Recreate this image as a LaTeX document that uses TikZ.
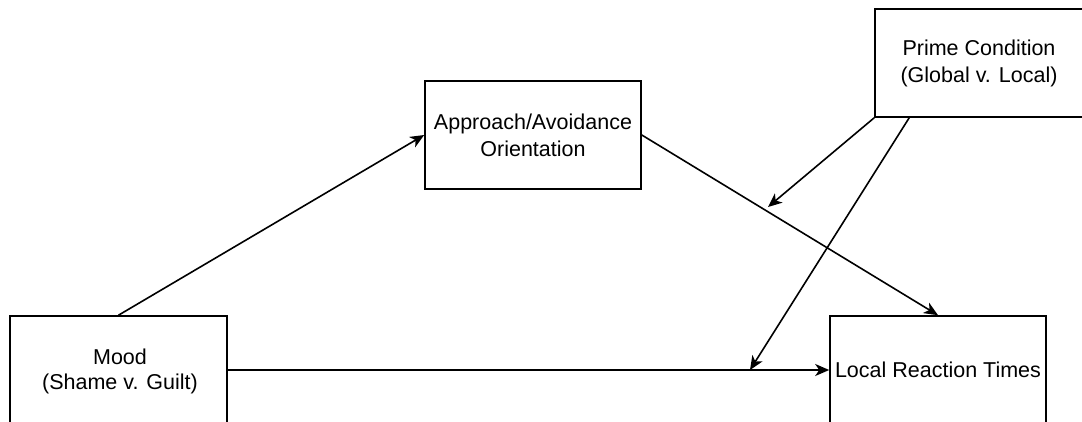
\documentclass[tikz,border=0pt]{standalone}
\usepackage{fontspec}
\setmainfont{Liberation Sans}
\usetikzlibrary{arrows.meta}
\begin{document}
\begin{tikzpicture}[x=1pt,y=-1pt,
  box/.style={draw=black,line width=1.6pt,fill=white,inner sep=0pt,align=center,
    font=\fontsize{21.5}{27}\selectfont},
  conn/.style={line width=1.6pt,-{Stealth[length=14pt,width=12pt,inset=4pt]}}]
\useasboundingbox (0,0) rectangle (1082,421);
\node[box,minimum width=217pt,minimum height=140pt] (mood) at (118.5,386) {};
\node[font=\fontsize{21.5}{25}\selectfont,align=center] (moodt) at (120,371) {Mood\\(Shame v. Guilt)};
\node[box,minimum width=216pt,minimum height=140pt] (lrt) at (938,386) {};
\node[font=\fontsize{21.5}{25}\selectfont] (lrtt) at (938,370) {Local Reaction Times};
\node[box,minimum width=216pt,minimum height=108pt] (app) at (533,135) {Approach/Avoidance\\Orientation};
\node[box,minimum width=208pt,minimum height=108pt] (prime) at (979,63) {Prime Condition\\(Global v. Local)};
\coordinate (m1) at (768,207);
\coordinate (m2) at (750,370);
\draw[conn] (mood.north) -- (app.west);
\draw[conn] (app.east) -- (lrt.north);
\draw[conn] (mood.east |- lrtt.center) -- (lrt.west |- lrtt.center);
\draw[conn] (prime.south west) -- (m1);
\draw[conn] ([xshift=35pt]prime.south west) -- (m2);
\end{tikzpicture}
\end{document}
